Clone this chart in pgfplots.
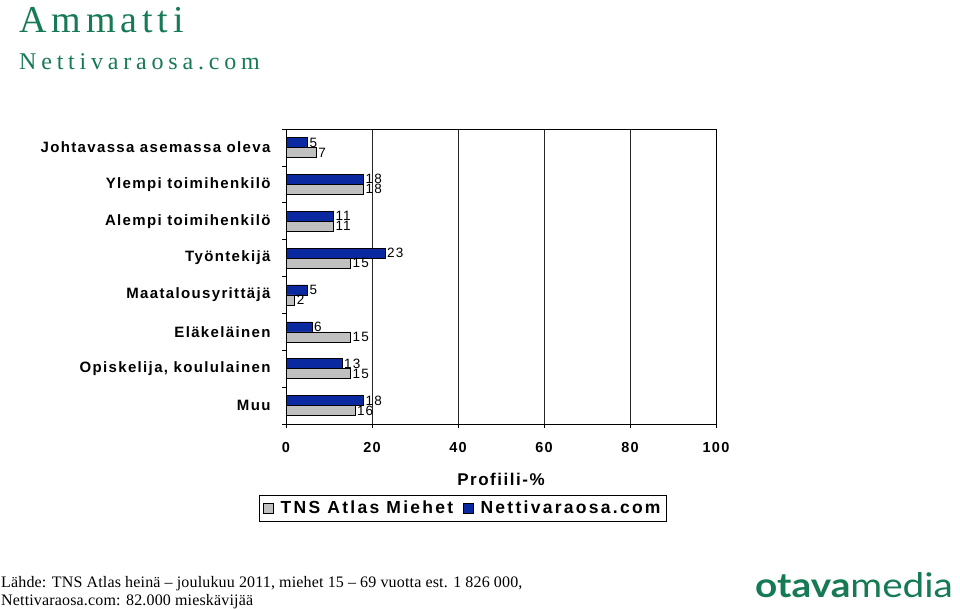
\documentclass[border=0pt]{standalone}
\usepackage{fontspec}
\setmainfont{Liberation Sans}
\newfontfamily\chartfont[LetterSpace=9]{Liberation Sans}
\newfontfamily\legfont[LetterSpace=13]{Liberation Sans}
\newfontfamily\titlefont[LetterSpace=13]{Liberation Serif}
\newfontfamily\subfont[LetterSpace=20]{Liberation Serif}
\newfontfamily\notefont[LetterSpace=1]{Liberation Serif}
\newfontfamily\logofont{Lato}
\usepackage{pgfplots}
\pgfplotsset{compat=1.18}
\definecolor{ogreen}{RGB}{22,122,84}
\definecolor{nblue}{RGB}{10,40,160}
\definecolor{tgray}{RGB}{192,192,192}
\begin{document}
\begin{tikzpicture}[x=1pt,y=1pt]
\path (0,0) rectangle (960,-607);
% titles
\node[anchor=base west,inner sep=0,text=ogreen,font=\titlefont\fontsize{38}{40}\selectfont] at (19,-33) {Ammatti};
\node[anchor=base west,inner sep=0,text=ogreen,font=\subfont\fontsize{24}{26}\selectfont] at (19,-70) {Nettivaraosa.com};
\begin{axis}[
	at={(286pt,-424pt)},anchor=south west,
	scale only axis,width=430pt,height=295pt,
	xbar,bar width=10pt,
	xmin=0,xmax=100,xtick={0,20,...,100},
	ymin=-0.5,ymax=7.5,y dir=reverse,
	ytick={-0.5,0.5,...,7.5},yticklabel={\mbox{}},
	extra y ticks={0,1,...,7},
	extra y tick labels={Johtavassa asemassa oleva,Ylempi toimihenkilö,Alempi toimihenkilö,Työntekijä,Maatalousyrittäjä,Eläkeläinen,{Opiskelija, koululainen},Muu},
	extra y tick style={major tick length=0pt},
	tick align=outside,major tick length=4pt,tick pos=left,
	tick style={black,line width=0.6pt},
	axis line style={black,line width=0.8pt},
	xmajorgrids,major grid style={black!85,line width=0.6pt},
	/pgf/number format/assume math mode=true,
	xticklabel style={font=\chartfont\bfseries\fontsize{14.5}{16}\selectfont,yshift=-11pt},
	yticklabel style={font=\chartfont\bfseries\fontsize{15}{16}\selectfont,xshift=-12pt},
	xlabel={Profiili-\%},
	xlabel style={font=\chartfont\bfseries\fontsize{17}{18}\selectfont,at={(0.5,-0.1864)},anchor=center},
	nodes near coords,
	nodes near coords style={font=\chartfont\fontsize{13.5}{13.5}\selectfont,black,inner sep=2pt},
	legend style={at={(0.4116,-0.2847)},anchor=center,draw=black,line width=0.8pt,
		font=\legfont\bfseries\fontsize{17.5}{18}\selectfont,
		legend columns=-1,inner xsep=4pt,inner ysep=4pt,
		/tikz/every even column/.append style={column sep=8pt},
		legend cell align=left},
	reverse legend,
	legend image code/.code={\draw[#1,line width=0.6pt] (0pt,-5pt) rectangle (10pt,5pt);\path[draw=none,fill=none] (0pt,0pt) -- (15pt,0pt);},
]
\addplot[fill=nblue,draw=black,bar shift=5pt] coordinates {(5,0) (18,1) (11,2) (23,3) (5,4) (6,5) (13,6) (18,7)};
\addplot[fill=tgray,draw=black,bar shift=-5pt] coordinates {(7,0) (18,1) (11,2) (15,3) (2,4) (15,5) (15,6) (16,7)};
\legend{Nettivaraosa.com,TNS Atlas Miehet}
\end{axis}
% footer
\node[anchor=base west,inner sep=0,font=\notefont\fontsize{16}{18}\selectfont] at (1,-587) {Lähde: TNS Atlas heinä – joulukuu 2011, miehet 15 – 69 vuotta est. 1 826 000,};
\node[anchor=base west,inner sep=0,font=\notefont\fontsize{16}{18}\selectfont] at (1,-605) {Nettivaraosa.com: 82.000 mieskävijää};
\node[anchor=base west,inner sep=0,text=ogreen,font=\logofont\fontsize{34}{36}\selectfont] at (755,-597) {\scalebox{1.14}[1]{\textbf{otava}media}};
\end{tikzpicture}
\end{document}
